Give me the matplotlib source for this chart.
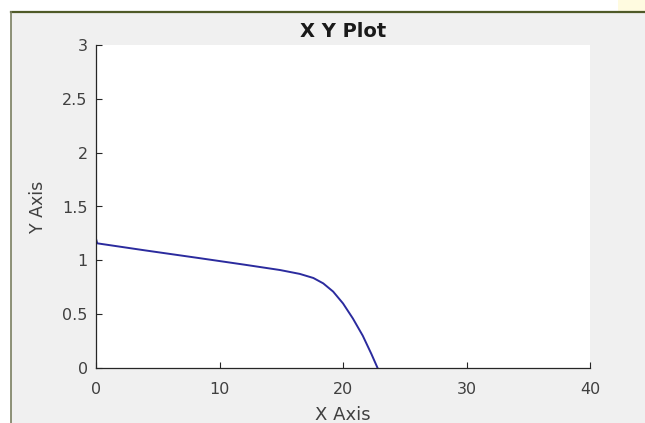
import numpy as np
import matplotlib.pyplot as plt
from matplotlib.lines import Line2D
from matplotlib.patches import Rectangle

# curve
x_vals = [0.0, 0.1, 4.0, 8.4, 12.0, 14.9, 16.5, 17.6, 18.4, 19.2, 20.0,
          20.8, 21.6, 22.3, 22.8]
y_vals = [1.20, 1.158, 1.092, 1.02, 0.96, 0.91, 0.874, 0.836, 0.786, 0.71,
          0.60, 0.46, 0.30, 0.13, 0.0]

x_ticks = [0, 10, 20, 30, 40]
y_ticks = [0, 0.5, 1, 1.5, 2, 2.5, 3]
y_tick_labels = ["0", "0.5", "1", "1.5", "2", "2.5", "3"]

plt.rcParams["font.family"] = ["DejaVu Sans"]

W, H = 645, 423
fig = plt.figure(figsize=(W / 100, H / 100), dpi=100)
fig.patch.set_facecolor("white")

# grey window panel with olive border (behind the axes)
fig.patches.append(Rectangle((11 / W, 0), 1 - 11 / W, (H - 12) / H,
                             transform=fig.transFigure, facecolor="#f0f0f0",
                             edgecolor="none", zorder=-2))
fig.patches.append(Rectangle((618 / W, (H - 12) / H), 27 / W, 12 / H,
                             transform=fig.transFigure, facecolor="#fffbe0",
                             edgecolor="none", zorder=-2))
fig.lines.append(Line2D([11 / W, 1], [(H - 12.5) / H, (H - 12.5) / H],
                        transform=fig.transFigure, color="#4f5a28", lw=1.6,
                        zorder=-1))
fig.lines.append(Line2D([11 / W, 11 / W], [0, (H - 12) / H],
                        transform=fig.transFigure, color="#7a7f60", lw=1.2,
                        zorder=-1))

ax = fig.add_axes([96 / W, (H - 368) / H, 494 / W, 323 / H])
ax.set_facecolor("white")
ax.plot(x_vals, y_vals, color="#2b2b9e", lw=1.4)

ax.set_xlim(0, 40)
ax.set_ylim(0, 3)
ax.set_xticks(x_ticks)
ax.set_yticks(y_ticks)
ax.set_yticklabels(y_tick_labels)

for side in ["top", "right"]:
    ax.spines[side].set_visible(False)
for side in ["left", "bottom"]:
    ax.spines[side].set_color("#262626")
    ax.spines[side].set_linewidth(0.9)

ax.tick_params(axis="both", direction="in", length=4, width=0.8,
               color="#262626", labelcolor="#404040", labelsize=11.5)
ax.tick_params(axis="x", pad=10)
ax.tick_params(axis="y", pad=6)

ax.set_title("X Y Plot", fontsize=14, fontweight="bold", color="#1a1a1a", pad=6)
ax.set_xlabel("X Axis", fontsize=13, color="#404040")
ax.set_ylabel("Y Axis", fontsize=12.5, color="#404040")
ax.xaxis.set_label_coords(0.5, -0.118)
ax.yaxis.set_label_coords(-0.10, 0.5)

fig.savefig("out.png", dpi=100, facecolor=fig.get_facecolor())
